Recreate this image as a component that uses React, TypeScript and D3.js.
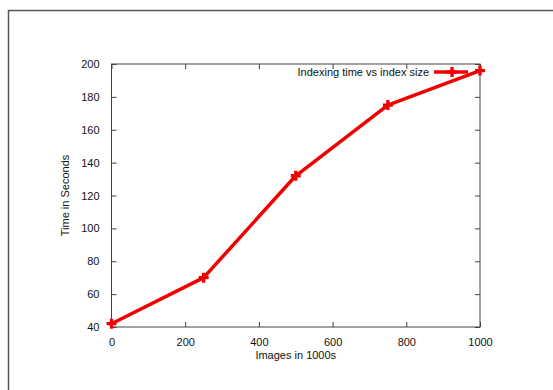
import { useEffect, useRef } from "react";
import * as d3 from "d3";

const images = [0, 250, 500, 750, 1000];
const seconds = [42, 70, 132, 175, 196];
const xTicks = [0, 200, 400, 600, 800, 1000];
const yTicks = [40, 60, 80, 100, 120, 140, 160, 180, 200];
const seriesName = "Indexing time vs index size";

export default function App() {
  const svgRef = useRef<SVGSVGElement | null>(null);

  useEffect(() => {
    const svg = d3.select(svgRef.current);
    svg.selectAll("*").remove();

    const width = 553;
    const height = 390;
    const margin = { top: 64, right: 73, bottom: 63, left: 111.5 };
    const font = "'Liberation Sans', Arial, sans-serif";
    const axisColor = "#444";
    const red = "#f00000";

    // outer frame (runs off the right and bottom edges)
    svg
      .append("rect")
      .attr("x", 8.5)
      .attr("y", 10.5)
      .attr("width", width)
      .attr("height", height)
      .attr("fill", "none")
      .attr("stroke", "#555")
      .attr("stroke-width", 1.5);

    const x = d3
      .scaleLinear()
      .domain([0, 1000])
      .range([margin.left, width - margin.right]);

    const y = d3
      .scaleLinear()
      .domain([40, 200])
      .range([height - margin.bottom, margin.top]);

    const tickLen = 5;

    const styleAxis = (g: d3.Selection<SVGGElement, unknown, null, undefined>) => {
      g.select(".domain").remove();
      g.selectAll("line").attr("stroke", axisColor);
      g.selectAll("text")
        .attr("fill", "#111")
        .style("font-family", font)
        .style("font-size", "11px");
    };

    svg
      .append("g")
      .attr("transform", `translate(0,${y(40)})`)
      .call(d3.axisBottom(x).tickValues(xTicks).tickSize(-tickLen).tickPadding(11).tickFormat(d3.format("d")))
      .call(styleAxis);

    svg
      .append("g")
      .attr("transform", `translate(0,${y(200)})`)
      .call(d3.axisTop(x).tickValues(xTicks).tickSize(-tickLen).tickFormat(() => ""))
      .call(styleAxis);

    svg
      .append("g")
      .attr("transform", `translate(${x(0)},0)`)
      .call(d3.axisLeft(y).tickValues(yTicks).tickSize(-tickLen).tickPadding(12).tickFormat(d3.format("d")))
      .call(styleAxis);

    svg
      .append("g")
      .attr("transform", `translate(${x(1000)},0)`)
      .call(d3.axisRight(y).tickValues(yTicks).tickSize(-tickLen).tickFormat(() => ""))
      .call(styleAxis);

    svg
      .append("rect")
      .attr("x", x(0))
      .attr("y", y(200))
      .attr("width", x(1000) - x(0))
      .attr("height", y(40) - y(200))
      .attr("fill", "none")
      .attr("stroke", axisColor)
      .attr("stroke-width", 1);

    // axis titles
    svg
      .append("text")
      .attr("x", (x(0) + x(1000)) / 2)
      .attr("y", 359)
      .attr("text-anchor", "middle")
      .style("font-family", font)
      .style("font-size", "11px")
      .attr("fill", "#111")
      .text("Images in 1000s");

    svg
      .append("text")
      .attr("transform", `translate(69,${(y(40) + y(200)) / 2}) rotate(-90)`)
      .attr("text-anchor", "middle")
      .style("font-family", font)
      .style("font-size", "11px")
      .attr("fill", "#111")
      .text("Time in Seconds");

    const pts = images.map((v, i) => [v, seconds[i]] as [number, number]);

    const line = d3
      .line<[number, number]>()
      .x((d) => x(d[0]))
      .y((d) => y(d[1]));

    svg
      .append("path")
      .datum(pts)
      .attr("d", line)
      .attr("fill", "none")
      .attr("stroke", red)
      .attr("stroke-width", 3.5)
      .attr("stroke-linejoin", "round");

    const cross = d3.symbol().type(d3.symbolCross).size(55);

    svg
      .selectAll("path.pt")
      .data(pts)
      .join("path")
      .attr("class", "pt")
      .attr("d", cross)
      .attr("transform", (d) => `translate(${x(d[0])},${y(d[1])})`)
      .attr("fill", red);

    // legend
    const ly = 72;
    svg
      .append("text")
      .attr("x", 429)
      .attr("y", ly)
      .attr("dy", "0.35em")
      .attr("text-anchor", "end")
      .style("font-family", font)
      .style("font-size", "11px")
      .attr("fill", "#111")
      .text(seriesName);

    svg
      .append("line")
      .attr("x1", 434)
      .attr("x2", 468)
      .attr("y1", ly)
      .attr("y2", ly)
      .attr("stroke", red)
      .attr("stroke-width", 3.5);

    svg
      .append("path")
      .attr("d", cross)
      .attr("transform", `translate(452,${ly})`)
      .attr("fill", red);
  }, []);

  return (
    <div style={{ position: "absolute", left: 0, top: 0 }}>
      <svg ref={svgRef} width={553} height={390} style={{ display: "block", background: "#fff" }}></svg>
    </div>
  );
}
